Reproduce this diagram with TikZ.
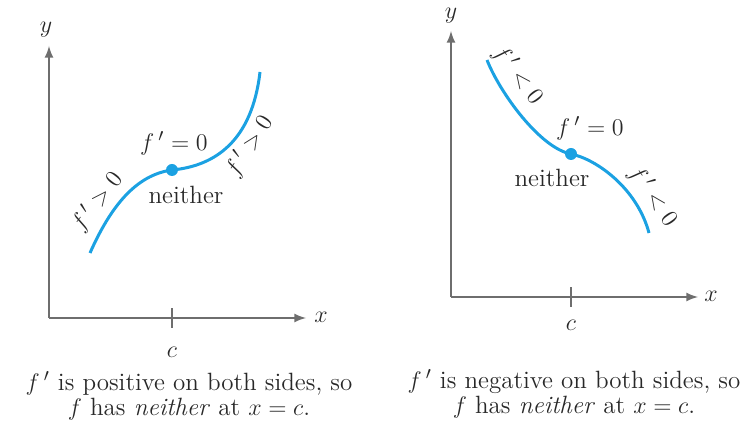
\documentclass[tikz,border=0pt]{standalone}
\usepackage{amsmath, amssymb}
\usepackage{tikz}
\usetikzlibrary{
  arrows,
  calc,
  positioning
}
\definecolor{curveblue}{RGB}{27,161,226}
\definecolor{axisgray}{RGB}{110,110,110}
\definecolor{textgray}{RGB}{40,40,40}
\tikzset{>=latex}
\tikzset{axisline/.style={->, draw=axisgray, line width=1pt}}
\tikzset{tickline/.style={draw=axisgray, line width=1pt}}
\tikzset{graphline/.style={draw=curveblue, line width=1.5pt}}
\tikzset{critpt/.style={circle, fill=curveblue, inner sep=0pt, minimum size=6pt}}
\tikzset{lbl/.style={text=textgray, inner sep=0pt}}

\begin{document}
\begin{tikzpicture}[x=0.5pt, y=0.5pt, font=\fontsize{12.5}{12.5}\selectfont]
    \useasboundingbox (0, 0) rectangle (745, 423);
    % left graph: f' > 0 on both sides
    \coordinate (oL) at (49, 105);
    \coordinate (yL) at (49, 377);
    \coordinate (xL) at (306, 105);
    \coordinate (tLa) at (172, 95);
    \coordinate (tLb) at (172, 115);
    \draw[axisline] (oL) -- (yL);
    \draw[axisline] (oL) -- (xL);
    \draw[tickline] (tLa) -- (tLb);
    \node[lbl] (ylabL) at (46, 393) {$y$};
    \node[lbl] (xlabL) at (321, 106) {$x$};
    \node[lbl] (cL) at (172, 71) {$c$};
    \coordinate (aL) at (90, 170);
    \coordinate (bL) at (260, 351);
    \node[critpt] (pL) at (172, 253) {};
    \draw[graphline] (aL) .. controls (110, 215) and (135, 248) .. (pL.center)
      .. controls (215, 257) and (252, 282) .. (bL);
    \node[lbl, rotate=52] (posL) at (97, 221) {$f\,' > 0$};
    \node[lbl, rotate=57] (posR) at (249, 277) {$f\,' > 0$};
    \node[lbl] (zeroL) at (174, 280) {$f\,' = 0$};
    \node[lbl] (neithL) at (186, 228) {neither};
    \node[lbl, align=center] (capL) at (189, 27)
      {$f\,'$ is positive on both sides, so\\ $f$ has \emph{neither} at $x = c$.};

    % right graph: f' < 0 on both sides
    \coordinate (oR) at (451, 126);
    \coordinate (yR) at (451, 392);
    \coordinate (xR) at (698, 126);
    \coordinate (tRa) at (571, 116);
    \coordinate (tRb) at (571, 136);
    \draw[axisline] (oR) -- (yR);
    \draw[axisline] (oR) -- (xR);
    \draw[tickline] (tRa) -- (tRb);
    \node[lbl] (ylabR) at (451, 407) {$y$};
    \node[lbl] (xlabR) at (711, 127) {$x$};
    \node[lbl] (cR) at (571, 98) {$c$};
    \coordinate (aR) at (487, 363);
    \coordinate (bR) at (649, 190);
    \node[critpt] (pR) at (571, 269) {};
    \draw[graphline] (aR) .. controls (500, 330) and (540, 275) .. (pR.center)
      .. controls (596, 264) and (637, 235) .. (bR);
    \node[lbl, rotate=-53] (negL) at (518, 348) {$f\,' < 0$};
    \node[lbl, rotate=-55] (negR) at (653, 227) {$f\,' < 0$};
    \node[lbl] (zeroR) at (590, 295) {$f\,' = 0$};
    \node[lbl] (neithR) at (552, 245) {neither};
    \node[lbl, align=center] (capR) at (574, 29)
      {$f\,'$ is negative on both sides, so\\ $f$ has \emph{neither} at $x = c$.};
  \end{tikzpicture}
\end{document}
